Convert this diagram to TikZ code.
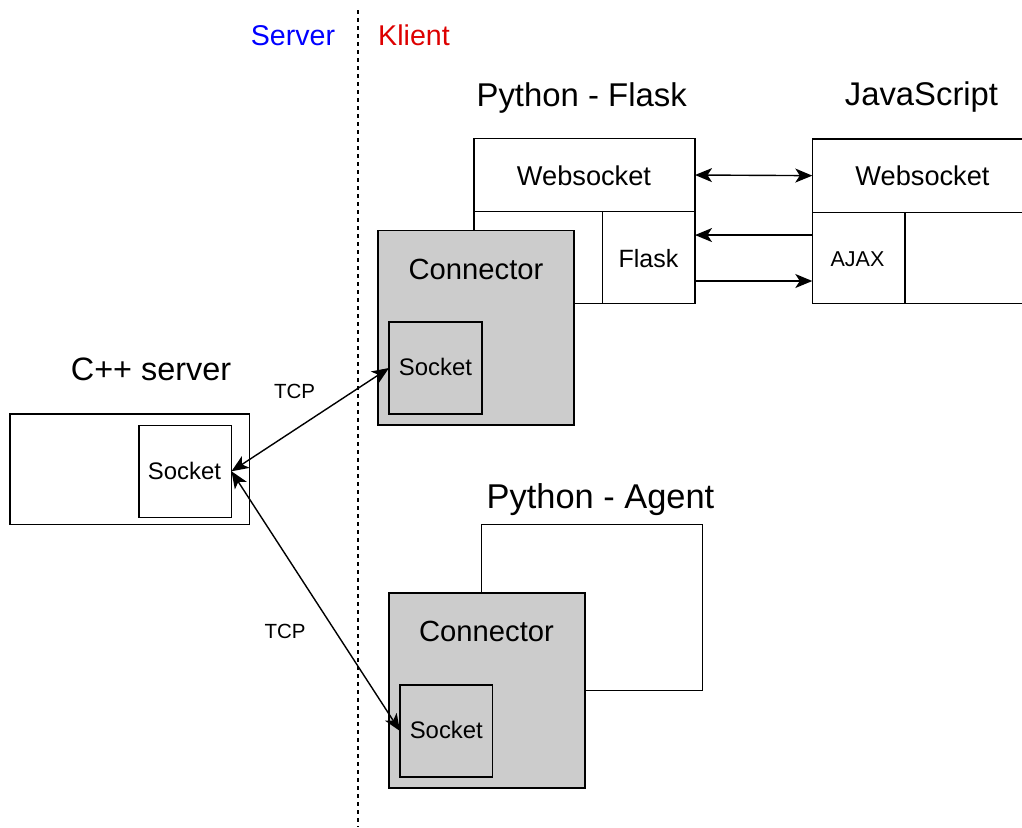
\documentclass[tikz,border=0pt]{standalone}
\usepackage{fontspec}
\setmainfont{Liberation Sans}
\usetikzlibrary{arrows.meta,calc}
\definecolor{boxgray}{HTML}{CCCCCC}
\definecolor{srvblue}{HTML}{0000FF}
\definecolor{clired}{HTML}{DD0000}

% font size helper
\newcommand{\sz}[1]{\fontsize{#1}{#1}\selectfont}
% rectangle node from its corners: name, style, x1, y1, x2, y2
\newcommand{\boxat}[6]{%
  \node[#2, minimum width={(#5-#3)*1pt}, minimum height={(#6-#4)*1pt}]
    (#1) at ({(#3+#5)/2},{(#4+#6)/2}) {};}

\begin{document}
\begin{tikzpicture}[x=1pt,y=-1pt,
  box/.style={draw=black, line width=1.5pt, fill=white, inner sep=0pt, outer sep=0pt},
  gbox/.style={box, fill=boxgray},
  txt/.style={anchor=base, inner sep=0pt, outer sep=0pt},
  >={Stealth[length=17pt 0 0,width=14pt 0 0,inset=4.5pt 0]},
  arr/.style={line width=1.4pt, ->},
  darr/.style={line width=1.4pt, <->},
]
\useasboundingbox (0,0) rectangle (1022,827);

% split line between server and client
\coordinate (splittop) at (358,10);
\coordinate (splitbot) at (358,827);
\draw[line width=1.3pt, dash pattern=on 4pt off 4pt] (splittop) -- (splitbot);
\node[txt, text=srvblue] (srvlbl) at (293,45.7) {\sz{28.6}Server};
\node[txt, text=clired] (clilbl) at (414,45.7) {\sz{28.6}Klient};

% Python - Flask
\boxat{flask}{box}{474}{138.3}{695}{303.3}
\boxat{flaskws}{box}{474}{138.3}{695}{211.7}
\boxat{flaskcell}{box}{602.7}{211.7}{695}{303.3}
\node[txt] (flasktitle) at (581.7,106.7) {\sz{32.9}Python - Flask};
\node[txt] (flaskwslbl) at (584,185) {\sz{27.2}Websocket};
\node[txt] (flaskcelllbl) at (648.5,267.7) {\sz{25}Flask};

% connector of the Flask process
\boxat{conn1}{gbox}{378}{230.7}{574}{425}
\boxat{sock1}{box, fill=boxgray}{389}{322}{482}{414}
\node[txt] (conn1lbl) at (476,279.4) {\sz{29.2}Connector};
\node[txt] (sock1lbl) at (435.5,375.7) {\sz{23.9}Socket};

% JavaScript
\boxat{js}{box}{812.3}{139}{1034}{303.3}
\boxat{jsws}{box}{812.3}{139}{1034}{212.3}
\boxat{ajax}{box}{812.3}{212.3}{905}{303.3}
\node[txt] (jstitle) at (921.5,105) {\sz{32.8}JavaScript};
\node[txt] (jswslbl) at (922.5,185) {\sz{27.2}Websocket};
\node[txt] (ajaxlbl) at (857.5,266) {\sz{21.5}AJAX};

% C++ server
\boxat{cpp}{box}{10}{414}{249.7}{524.3}
\boxat{cppsock}{box}{139}{425.3}{231.5}{517.3}
\node[txt] (cpptitle) at (151,380.7) {\sz{32.4}C++ server};
\node[txt] (cppsocklbl) at (184.5,479.3) {\sz{23.9}Socket};

% Python - Agent
\boxat{agent}{box}{481.3}{524.3}{702.3}{690.7}
\boxat{conn2}{gbox}{389}{593}{585}{788}
\boxat{sock2}{box, fill=boxgray}{400}{685}{492.7}{777}
\node[txt] (agenttitle) at (600.5,508.3) {\sz{34.4}Python - Agent};
\node[txt] (conn2lbl) at (486.5,641.7) {\sz{29.2}Connector};
\node[txt] (sock2lbl) at (446.3,738.7) {\sz{23.9}Socket};

% Websocket link
\draw[darr] (flaskws.east) -- (jsws.west);
% AJAX requests and responses
\coordinate (ajaxout) at ($(ajax.north west)!0.25!(ajax.south west)$);
\coordinate (ajaxin) at ($(ajax.north west)!0.755!(ajax.south west)$);
\draw[arr] (ajaxout) -- (ajaxout -| flaskcell.east);
\draw[arr] (ajaxin -| flaskcell.east) -- (ajaxin);

% TCP links
\draw[darr] (cppsock.east) -- (sock1.west);
\draw[darr] (cppsock.east) -- (sock2.west);
\node[txt] (tcp1) at (294.5,398.5) {\sz{20.5}TCP};
\node[txt] (tcp2) at (285,638) {\sz{20.5}TCP};
\end{tikzpicture}
\end{document}
